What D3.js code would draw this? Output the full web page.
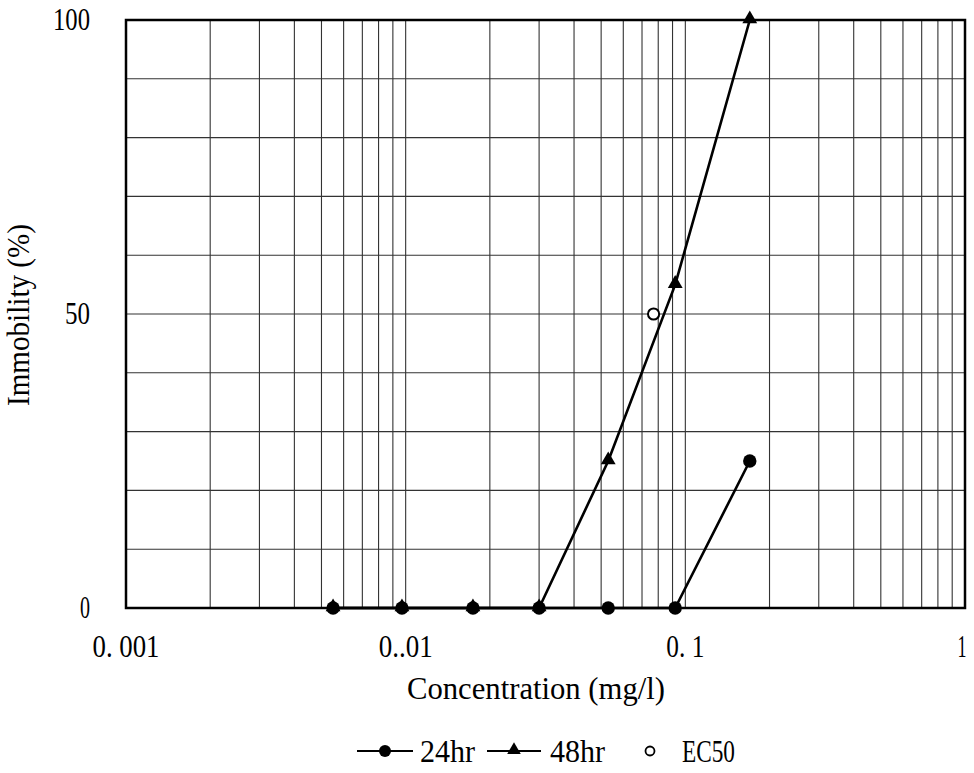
<!DOCTYPE html>
<html>
<head>
<meta charset="utf-8">
<script src="https://cdn.jsdelivr.net/npm/d3@7"></script>
<style>
  html, body { margin: 0; padding: 0; background: #fff; }
  svg { display: block; }
  text { font-family: "Liberation Serif", "DejaVu Serif", serif; fill: #000; }
</style>
</head>
<body>
<svg id="chart" width="974" height="773"></svg>
<script>
// Test concentrations (mg/l) and immobility (%) at 24 h and 48 h
const concentrations = [0.0055, 0.0097, 0.0174, 0.030, 0.053, 0.092, 0.170];
const immob24 = [0, 0, 0, 0, 0, 0, 25];
const immob48 = [0, 0, 0, 0, 25, 55, 100];
const ec50 = [{ c: 0.077, v: 50 }];

const xTicks = [0.001, 0.01, 0.1, 1];
const xTickLabels = ["0. 001", "0..01", "0. 1", "1"];
const yTicks = [0, 50, 100];
const yTickLabels = ["0", "50", "100"];

const svg = d3.select("#chart");
const plot = { left: 126, right: 965, top: 20, bottom: 608 };

const x = d3.scaleLog().domain([0.001, 1]).range([plot.left, plot.right]);
const y = d3.scaleLinear().domain([0, 100]).range([plot.bottom, plot.top]);

const FS = 31;

// Condensed text helper: width fixed with textLength
function label(g, str, px, py, width, anchor, size) {
  const t = g.append("text")
    .attr("x", px).attr("y", py)
    .attr("font-size", size || FS)
    .attr("textLength", width)
    .attr("lengthAdjust", "spacingAndGlyphs")
    .text(str);
  if (anchor === "end") t.attr("x", px - width);
  else if (anchor === "middle") t.attr("x", px - width / 2);
  return t;
}

// Grid: minor log lines for each decade, horizontal every 10%
const grid = svg.append("g");
const vLines = [];
for (let d = -3; d < 0; d++) {
  for (let m = 1; m <= 9; m++) vLines.push(m * Math.pow(10, d));
}
grid.selectAll("line.v").data(vLines.filter(v => v > 0.001)).join("line")
  .attr("x1", d => x(d)).attr("x2", d => x(d))
  .attr("y1", plot.top).attr("y2", plot.bottom)
  .attr("stroke", "#333").attr("stroke-width", 1.1);
grid.selectAll("line.h").data(d3.range(10, 100, 10)).join("line")
  .attr("x1", plot.left).attr("x2", plot.right)
  .attr("y1", d => y(d)).attr("y2", d => y(d))
  .attr("stroke", "#333").attr("stroke-width", 1.1);

// Frame
svg.append("rect")
  .attr("x", plot.left).attr("y", plot.top)
  .attr("width", plot.right - plot.left).attr("height", plot.bottom - plot.top)
  .attr("fill", "none").attr("stroke", "#000").attr("stroke-width", 2.5);

// Tick labels
const tl = svg.append("g");
const yWidths = [10, 25, 37];
yTicks.forEach((v, i) => label(tl, yTickLabels[i], 90 - yWidths[i], y(v) + 10, yWidths[i], "start"));
const xWidths = [67, 54, 38, 9];
xTicks.forEach((v, i) => label(tl, xTickLabels[i], x(v) + (i === 3 ? -3 : 0), 657, xWidths[i], "middle"));

// Axis titles
label(svg, "Concentration (mg/l)", 536, 699, 258, "middle");
svg.append("g").attr("transform", "translate(29,315) rotate(-90)")
  .call(g => label(g, "Immobility (%)", 0, 0, 182, "middle"));

// Series
const line = d3.line().x(d => x(d[0])).y(d => y(d[1]));
const s48 = concentrations.map((c, i) => [c, immob48[i]]);
const s24 = concentrations.map((c, i) => [c, immob24[i]]);
const tri = d3.symbol().type(d3.symbolTriangle).size(95);

svg.append("path").datum(s48).attr("d", line)
  .attr("fill", "none").attr("stroke", "#000").attr("stroke-width", 2.6);
svg.selectAll("path.t48").data(s48).join("path").attr("class", "t48")
  .attr("d", tri).attr("transform", d => `translate(${x(d[0])},${y(d[1]) - 1})`)
  .attr("fill", "#000");

svg.append("path").datum(s24).attr("d", line)
  .attr("fill", "none").attr("stroke", "#000").attr("stroke-width", 2.6);
svg.selectAll("circle.c24").data(s24).join("circle").attr("class", "c24")
  .attr("cx", d => x(d[0])).attr("cy", d => y(d[1])).attr("r", 6.7)
  .attr("fill", "#000");

svg.selectAll("circle.ec").data(ec50).join("circle").attr("class", "ec")
  .attr("cx", d => x(d.c)).attr("cy", d => y(d.v)).attr("r", 5.6)
  .attr("fill", "#fff").attr("stroke", "#000").attr("stroke-width", 2);

// Legend
const lg = svg.append("g");
const ly = 751;
lg.append("line").attr("x1", 357).attr("x2", 413).attr("y1", ly).attr("y2", ly)
  .attr("stroke", "#000").attr("stroke-width", 2);
lg.append("circle").attr("cx", 385).attr("cy", ly).attr("r", 6).attr("fill", "#000");
label(lg, "24hr", 420, 762, 55, "start");
lg.append("line").attr("x1", 487).attr("x2", 541).attr("y1", ly).attr("y2", ly)
  .attr("stroke", "#000").attr("stroke-width", 2);
lg.append("path").attr("d", d3.symbol().type(d3.symbolTriangle).size(80))
  .attr("transform", `translate(514,${ly - 1})`).attr("fill", "#000");
label(lg, "48hr", 550, 762, 55, "start");
lg.append("circle").attr("cx", 650).attr("cy", ly).attr("r", 4.5)
  .attr("fill", "#fff").attr("stroke", "#000").attr("stroke-width", 1.8);
label(lg, "EC50", 682, 762, 53, "start");
</script>
</body>
</html>
